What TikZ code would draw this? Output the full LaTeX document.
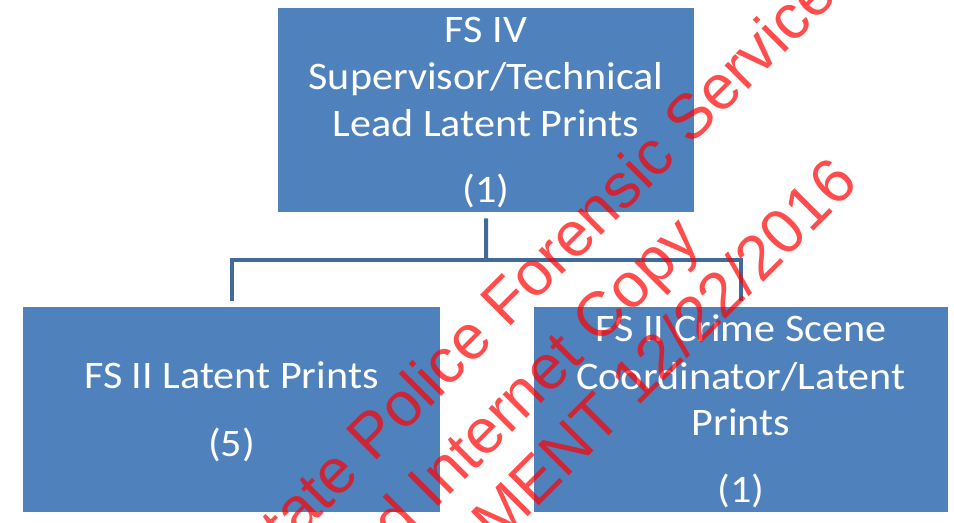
\documentclass[tikz,border=0pt]{standalone}
\usepackage{fontspec}
\newfontfamily\boxfont{Carlito}[FakeStretch=1.08]
\newfontfamily\wmfont{Liberation Sans}
\definecolor{boxblue}{HTML}{4F81BD}
\definecolor{connblue}{HTML}{41699A}
\begin{document}
\begin{tikzpicture}[x=1bp,y=-1bp,
  orgbox/.style={draw=none,fill=boxblue,inner sep=0pt,anchor=north west},
  boxtext/.style={text=white,inner sep=0pt,anchor=base,font=\boxfont\fontsize{39bp}{47bp}\selectfont},
  conn/.style={draw=connblue,line width=4bp,line join=miter},
  wm/.style={text=red,text opacity=0.7,inner sep=0pt,anchor=base west,rotate=45,font=\wmfont\fontsize{63bp}{72bp}\selectfont}]
\useasboundingbox (0,0) rectangle (954,523);
\fill[white] (0,0) rectangle (954,523);
% boxes
\node[orgbox,minimum width=416bp,minimum height=204bp] (top) at (278,8) {};
\node[orgbox,minimum width=417bp,minimum height=205bp] (left) at (23,307) {};
\node[orgbox,minimum width=414bp,minimum height=205bp] (right) at (534,307) {};
% texts
\node[boxtext] (t1) at (486,43) {FS IV};
\node[boxtext] (t2) at (486,90) {Supervisor/Technical};
\node[boxtext] (t3) at (486,137) {Lead Latent Prints};
\node[boxtext] (t4) at (486,203) {(1)};
\node[boxtext] (l1) at (231.5,388) {FS II Latent Prints};
\node[boxtext] (l2) at (231.5,456) {(5)};
\node[boxtext] (r1) at (741,342) {FS II Crime Scene};
\node[boxtext] (r2) at (741,389) {Coordinator/Latent};
\node[boxtext] (r3) at (741,435) {Prints};
\node[boxtext] (r4) at (741,502) {(1)};
% connectors
\coordinate (jn) at (486,260);
\draw[conn,shorten <=6bp] (top.south) -- (jn);
\draw[conn,shorten <=6bp,shorten >=6bp] (left.north) -- (left.north |- jn) -- (right.north |- jn) -- (right.north);
% watermark
\begin{scope}
\clip (0,0) rectangle (954,523);
\node[wm] (w1) at (286.9,550.3) {tate Police Forensic Service};
\node[wm] (w2) at (397.6,547.4) {d Internet Copy};
\node[wm] (w3) at (498.5,546.6) {MENT 12/22/2016};
\end{scope}
\end{tikzpicture}
\end{document}
